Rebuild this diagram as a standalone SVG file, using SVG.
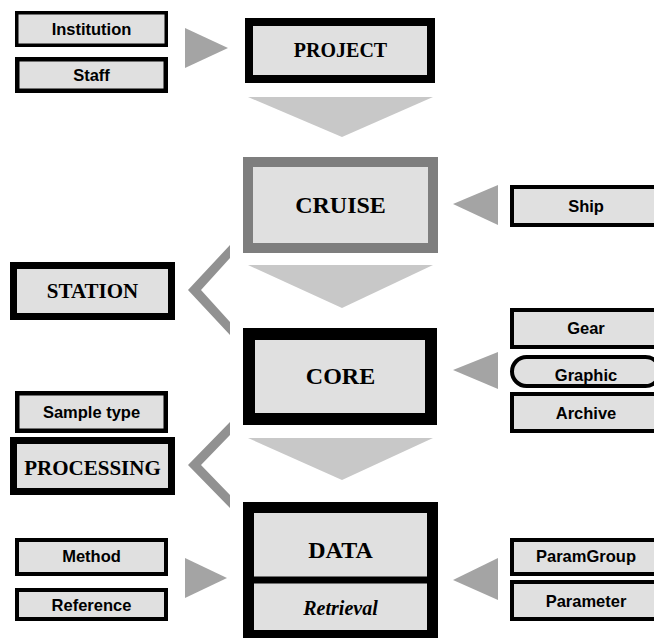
<svg xmlns="http://www.w3.org/2000/svg" width="654" height="638" viewBox="0 0 654 638">
  <style>
    .box { fill: #e0e0e0; stroke: #000; }
    .thin { stroke-width: 4; }
    .grey-frame { stroke: #7e7e7e; }
    .lbl { font-family: "Liberation Sans", Arial, sans-serif; font-weight: bold; font-size: 16.5px; fill: #000; text-anchor: middle; }
    .ttl { font-family: "Liberation Serif", "Times New Roman", serif; font-weight: bold; fill: #000; text-anchor: middle; }
    .side { fill: #a4a4a4; }
    .down { fill: #c8c8c8; }
    .chev { fill: #919191; }
  </style>
  <rect width="654" height="638" fill="#ffffff"/>

  <!-- connectors: feeder triangles, flow arrows and branch chevrons -->
  <g id="connectors">
    <polygon class="side" points="185,28 228,48 185,68"/>
    <polygon class="down" points="248,97 433,97 342,137"/>
    <polygon class="side" points="498,185 453,204 498,225"/>
    <polygon class="down" points="248,265 433,265 342,308"/>
    <polygon class="chev" points="230,245 188,290 230,335 230,322 201,290 230,258"/>
    <polygon class="side" points="498,352 453,370 498,389"/>
    <polygon class="down" points="248,438 433,438 342,480"/>
    <polygon class="chev" points="230,422 188,465 230,508 230,495 201,465 230,435"/>
    <polygon class="side" points="185,558 227,578 185,598"/>
    <polygon class="side" points="498,558 453,580 498,600"/>
  </g>

  <g id="institution">
    <rect class="box" x="16.75" y="12.75" width="149.5" height="32.5" stroke-width="3.5"/>
    <text class="lbl" x="91.5" y="35">Institution</text>
  </g>
  <g id="staff">
    <rect class="box" x="17.25" y="59.25" width="148.5" height="31.5" stroke-width="4.5"/>
    <text class="lbl" x="91.5" y="81">Staff</text>
  </g>
  <g id="project">
    <rect class="box" x="249" y="22" width="182" height="57" stroke-width="8"/>
    <text class="ttl" x="340.5" y="57" font-size="20">PROJECT</text>
  </g>
  <g id="cruise">
    <rect class="box grey-frame" x="248" y="162" width="185" height="86" stroke-width="10"/>
    <text class="ttl" x="340.5" y="213" font-size="24">CRUISE</text>
  </g>
  <g id="ship">
    <rect class="box thin" x="512" y="187" width="148" height="38"/>
    <text class="lbl" x="586" y="212">Ship</text>
  </g>
  <g id="station">
    <rect class="box" x="13.5" y="265.5" width="158" height="51" stroke-width="7"/>
    <text class="ttl" x="92.5" y="298" font-size="21">STATION</text>
  </g>
  <g id="core">
    <rect class="box" x="249" y="334" width="182" height="85" stroke-width="12"/>
    <text class="ttl" x="340.5" y="384" font-size="24">CORE</text>
  </g>
  <g id="gear">
    <rect class="box thin" x="512" y="310" width="148" height="37"/>
    <text class="lbl" x="586" y="334">Gear</text>
  </g>
  <g id="graphic">
    <rect class="box thin" x="512" y="357" width="148" height="29" rx="14.5" ry="14.5"/>
    <text class="lbl" x="586" y="381">Graphic</text>
  </g>
  <g id="archive">
    <rect class="box thin" x="512" y="394" width="148" height="37"/>
    <text class="lbl" x="586" y="418.5">Archive</text>
  </g>
  <g id="sample-type">
    <rect class="box" x="17.25" y="393.25" width="148.5" height="37.5" stroke-width="4.5"/>
    <text class="lbl" x="91.5" y="418">Sample type</text>
  </g>
  <g id="processing">
    <rect class="box" x="13.5" y="440.5" width="158" height="51" stroke-width="7"/>
    <text class="ttl" x="92.5" y="475" font-size="21">PROCESSING</text>
  </g>
  <g id="data">
    <rect class="box" x="248.5" y="507.5" width="184" height="128" stroke-width="11"/>
    <line x1="248" y1="580" x2="433" y2="580" stroke="#000" stroke-width="7"/>
    <text class="ttl" x="340.5" y="558" font-size="24">DATA</text>
    <text class="ttl" x="340.5" y="615" font-size="20" font-style="italic">Retrieval</text>
  </g>
  <g id="method">
    <rect class="box thin" x="17" y="540" width="149" height="34"/>
    <text class="lbl" x="91.5" y="562">Method</text>
  </g>
  <g id="reference">
    <rect class="box thin" x="17" y="590" width="149" height="29"/>
    <text class="lbl" x="91.5" y="611">Reference</text>
  </g>
  <g id="paramgroup">
    <rect class="box thin" x="512" y="540" width="148" height="34"/>
    <text class="lbl" x="586" y="562">ParamGroup</text>
  </g>
  <g id="parameter">
    <rect class="box thin" x="512" y="582" width="148" height="37"/>
    <text class="lbl" x="586" y="607">Parameter</text>
  </g>
</svg>
